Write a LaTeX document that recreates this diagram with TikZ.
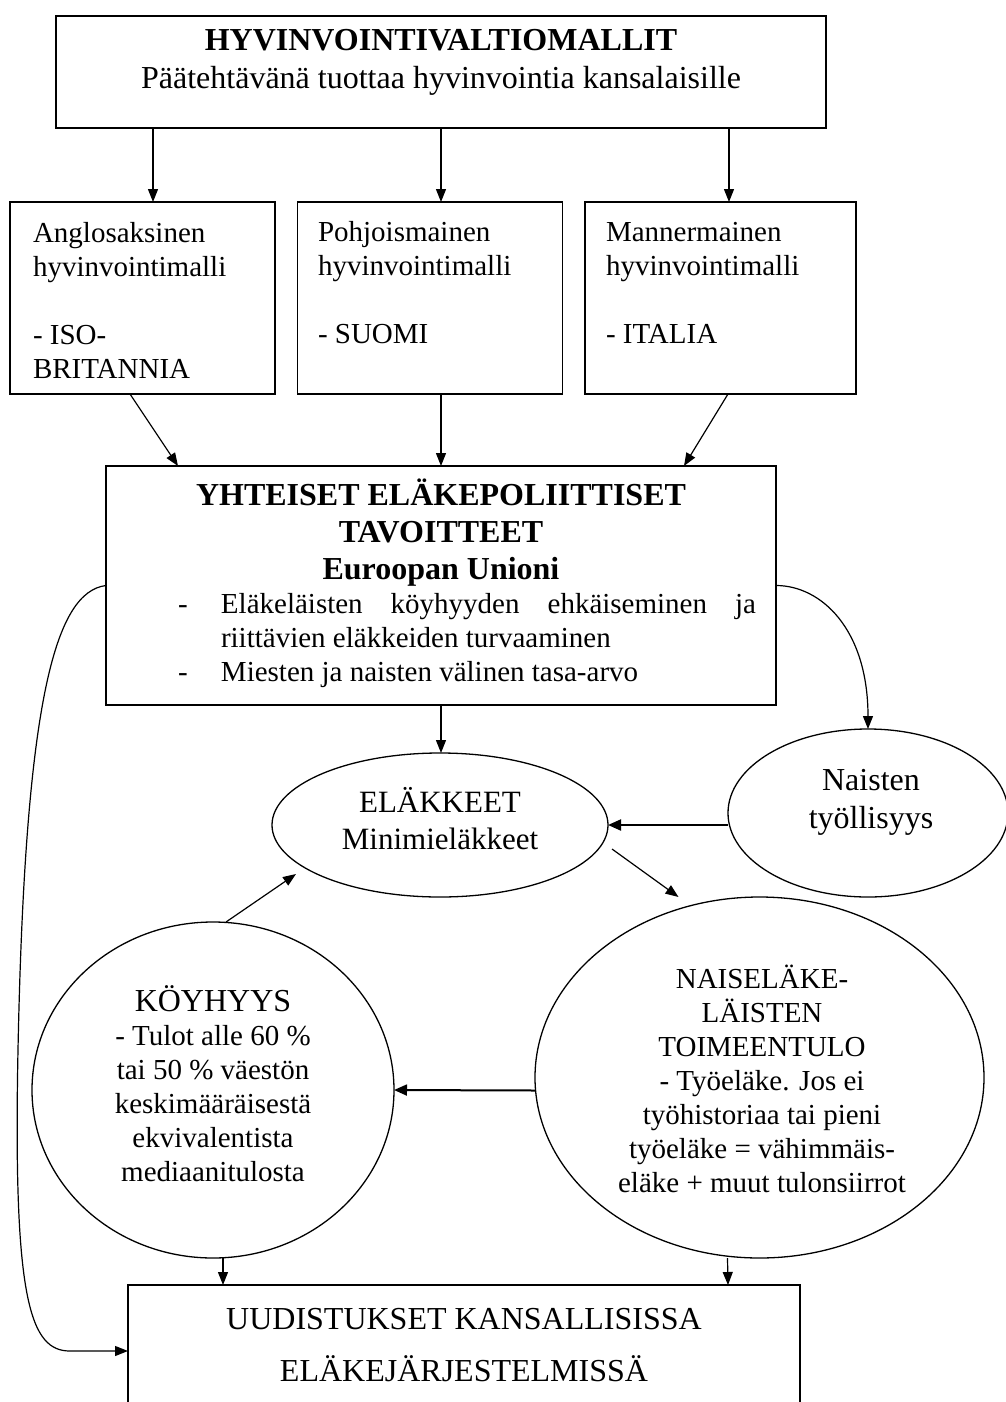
\documentclass[tikz,border=0pt]{standalone}
\usepackage{fontspec}
\setmainfont{Liberation Serif}
\usetikzlibrary{arrows.meta,shapes.geometric,calc}
\begin{document}
\begin{tikzpicture}[x=1pt,y=-1pt,
  box/.style={draw,line width=1.6pt,inner sep=0pt,outer sep=0pt},
  oval/.style={draw,ellipse,line width=1.3pt,inner sep=0pt,outer sep=0pt},
  txt/.style={inner sep=0pt,outer sep=0pt},
  arr/.style={line width=1.2pt,-{Triangle[length=13pt,width=10pt]}},
  thickarr/.style={line width=2pt,-{Triangle[length=13pt,width=11pt]}},
  sm/.style={font=\fontsize{29}{34}\selectfont},
  lg/.style={font=\fontsize{32}{38}\selectfont}]
\useasboundingbox (0,0) rectangle (1006,1402);
\clip (0,0) rectangle (1006,1402);
% top
\node[box,minimum width=770pt,minimum height=112pt] (top) at (441,72) {};
\node[txt,align=center,lg] (toptxt) at (441,62) {\textbf{HYVINVOINTIVALTIOMALLIT}\\Päätehtävänä tuottaa hyvinvointia kansalaisille};
% three models
\node[box,minimum width=265pt,minimum height=192pt] (b1) at (142.5,298) {};
\node[box,minimum width=265pt,minimum height=192pt] (b2) at (430,298) {};
\node[box,minimum width=271pt,minimum height=192pt] (b3) at (720.5,298) {};
\node[txt,sm,align=left,anchor=west] (b1t) at (33,300) {Anglosaksinen\\hyvinvointimalli\\[34pt]- ISO-\\BRITANNIA};
\node[txt,sm,align=left,anchor=west] (b2t) at (318,283) {Pohjoismainen\\hyvinvointimalli\\[34pt]- SUOMI};
\node[txt,sm,align=left,anchor=west] (b3t) at (606,283) {Mannermainen\\hyvinvointimalli\\[34pt]- ITALIA};
% middle
\node[box,minimum width=670pt,minimum height=239pt] (mid) at (441,585.5) {};
\node[txt,align=center,font=\fontsize{32}{37}\selectfont\bfseries] (midt) at (441,533) {YHTEISET ELÄKEPOLIITTISET\\TAVOITTEET\\Euroopan Unioni};
\node[txt,sm,align=left,anchor=west] (midb) at (221,641) {\llap{\makebox[43pt][l]{-}}\hbox to 535pt{Eläkeläisten\hfill köyhyyden\hfill ehkäiseminen\hfill ja}\\riittävien eläkkeiden turvaaminen\\\llap{\makebox[43pt][l]{-}}Miesten ja naisten välinen tasa-arvo};
% ellipses
\node[oval,minimum width=336pt,minimum height=144pt] (elak) at (440,825) {};
\node[txt,align=center,font=\fontsize{31}{37}\selectfont] (elakt) at (440,819) {ELÄKKEET\\Minimieläkkeet};
\node[oval,minimum width=280pt,minimum height=168pt] (nais) at (868,813) {};
\node[txt,lg,align=center] (naist) at (871,802) {Naisten\\työllisyys};
\node[oval,minimum width=362pt,minimum height=336pt] (koy) at (213,1090) {};
\node[txt,sm,align=center] (koyt) at (213,1084) {{\fontsize{32}{34}\selectfont KÖYHYYS}\\- Tulot alle 60 \%\\tai 50 \% väestön\\keskimääräisestä\\ekvivalentista\\mediaanitulosta};
\node[oval,minimum width=449pt,minimum height=361pt] (naisel) at (759.5,1077.5) {};
\node[txt,sm,align=center] (naiselt) at (762,1079) {NAISELÄKE-\\LÄISTEN\\TOIMEENTULO\\- Työeläke. Jos ei\\työhistoriaa tai pieni\\työeläke = vähimmäis-\\eläke + muut tulonsiirrot};
% bottom
\node[box,minimum width=672pt,minimum height=132pt] (bot) at (464,1351) {};
\node[txt,lg,align=center] (bott) at (464,1345) {UUDISTUKSET KANSALLISISSA\\[14pt]ELÄKEJÄRJESTELMISSÄ};
% arrows
\draw[arr] ([xshift=-288pt]top.south) -- ([xshift=10.5pt]b1.north);
\draw[arr] (top.south) -- ([xshift=11pt]b2.north);
\draw[arr] ([xshift=288pt]top.south) -- ([xshift=8.5pt]b3.north);
\draw[arr] ([xshift=-12.5pt]b1.south) -- ([xshift=-263pt]mid.north);
\draw[arr] ([xshift=11pt]b2.south) -- (mid.north);
\draw[arr] ([xshift=7.5pt]b3.south) -- ([xshift=243pt]mid.north);
\draw[arr] (mid.south) -- (mid.south |- elak.north);
\draw[thickarr] (nais.west |- elak.east) -- (elak.east);
\draw[arr] (mid.east) .. controls ([xshift=45pt]mid.east) and ([yshift=100pt]nais.north) .. (nais.north);
\draw[arr] (mid.west) .. controls (55,592) and (25,700) .. (18,1050) .. controls (13,1300) and (30,1351) .. (70,1351) -- (bot.west);
\draw[arr] ([shift={(4pt,-24pt)}]elak.east) -- ([xshift=-81pt]naisel.north);
\draw[arr] ([xshift=13pt]koy.north) -- ([shift={(-144pt,-49pt)}]elak.center);
\draw[thickarr] ([yshift=-13pt]naisel.west) -- (koy.east);
\draw[arr] ([xshift=10pt]koy.south) -- ([xshift=-241pt]bot.north);
\draw[arr] ([xshift=-32pt]naisel.south) -- ([xshift=264pt]bot.north);
\end{tikzpicture}
\end{document}
